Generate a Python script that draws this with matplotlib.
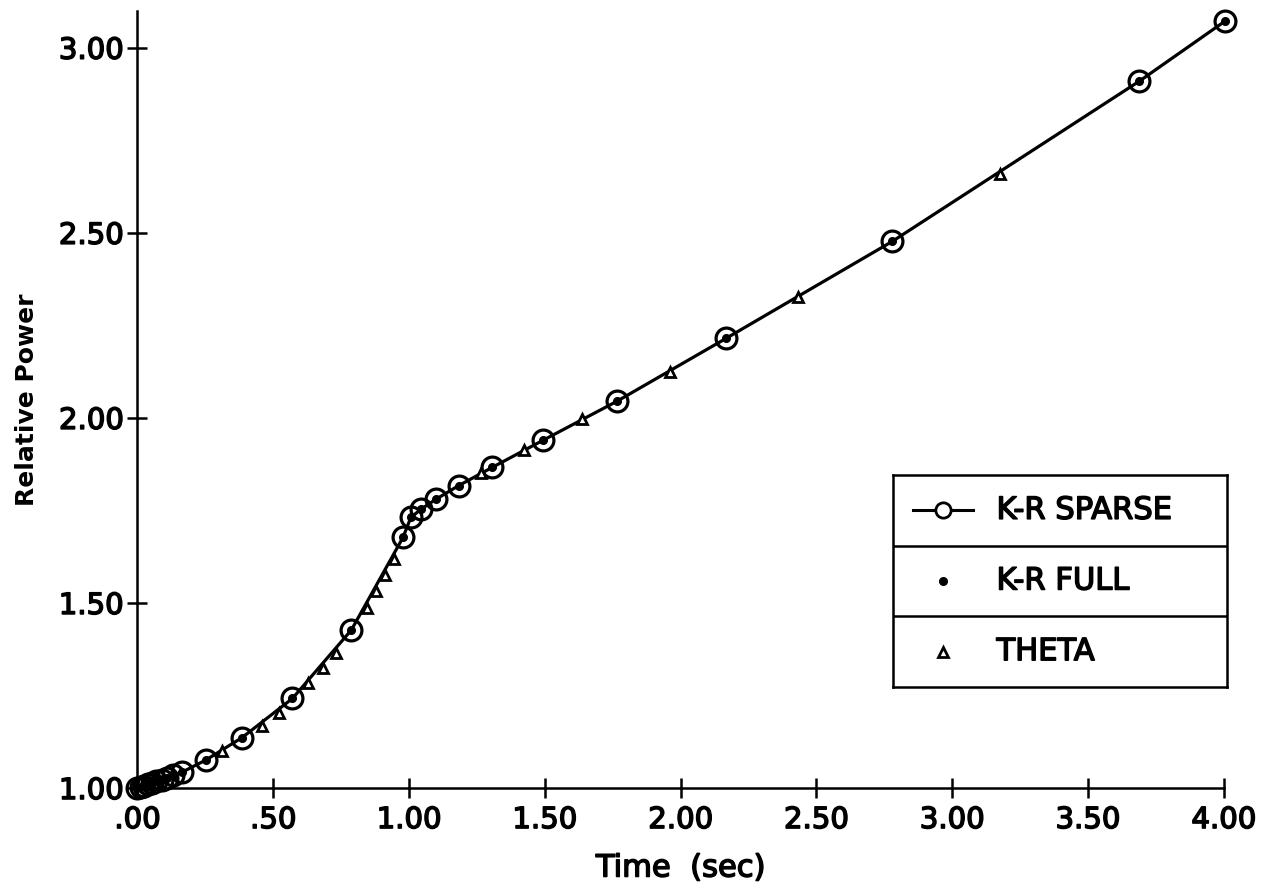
import matplotlib
matplotlib.use("Agg")
import matplotlib.pyplot as plt
from matplotlib.lines import Line2D
import matplotlib.patheffects as pe

# K-R SPARSE (circles, joined by line)
sparse_t = [0.0, 0.012, 0.025, 0.04, 0.055, 0.07, 0.09, 0.11, 0.13, 0.165, 0.253,
            0.385, 0.571, 0.788, 0.978, 1.007, 1.044, 1.099, 1.183, 1.306,
            1.495, 1.766, 2.168, 2.78, 3.69, 4.005]
sparse_p = [1.0, 1.003, 1.006, 1.01, 1.014, 1.018, 1.023, 1.028, 1.034, 1.043, 1.076,
            1.136, 1.242, 1.427, 1.677, 1.731, 1.753, 1.780, 1.817, 1.866,
            1.940, 2.045, 2.215, 2.477, 2.910, 3.072]

# K-R FULL (dots)
full_t = sparse_t
full_p = sparse_p

# THETA (triangles)
theta_t = [0.311, 0.458, 0.52, 0.630, 0.685, 0.733, 0.845, 0.88, 0.913, 0.945,
           1.264, 1.425, 1.637, 1.96, 2.432, 3.176]
theta_p = [1.100, 1.168, 1.204, 1.283, 1.323, 1.366, 1.487, 1.532, 1.575, 1.620,
           1.851, 1.913, 1.997, 2.125, 2.326, 2.660]

xticks = [0.0, 0.5, 1.0, 1.5, 2.0, 2.5, 3.0, 3.5, 4.0]
xticklabels = [".00", ".50", "1.00", "1.50", "2.00", "2.50", "3.00", "3.50", "4.00"]
yticks = [1.0, 1.5, 2.0, 2.5, 3.0]
yticklabels = ["1.00", "1.50", "2.00", "2.50", "3.00"]
legend_labels = ["K-R SPARSE", "K-R FULL", "THETA"]

plt.rcParams['font.family'] = ['DejaVu Sans']
heavy = [pe.withStroke(linewidth=1.1, foreground='black')]

fig = plt.figure(figsize=(12.72, 8.96), dpi=100)
ax = fig.add_axes([0.108, 0.1205, 0.854, 0.8675])

ax.plot(sparse_t, sparse_p, color='black', lw=2.3, marker='o', ms=15,
        mfc='none', mec='black', mew=2.3, zorder=3, clip_on=False)
ax.plot(full_t, full_p, ls='none', marker='o', ms=5.5, color='black', zorder=4,
        clip_on=False)
ax.plot(theta_t, theta_p, ls='none', marker='^', ms=7, mfc='white', mec='black',
        mew=2.0, zorder=5, clip_on=False)

ax.set_xlim(0, 4.0)
ax.set_ylim(1.0, 3.10)
ax.set_xticks(xticks)
ax.set_xticklabels(xticklabels)
ax.set_yticks(yticks)
ax.set_yticklabels(yticklabels)
for s in ['top', 'right']:
    ax.spines[s].set_visible(False)
for s in ['left', 'bottom']:
    ax.spines[s].set_linewidth(1.8)
ax.tick_params(direction='inout', length=14, width=1.8, labelsize=21)
ax.tick_params(axis='x', pad=6)
ax.tick_params(axis='y', pad=3)
for lab in ax.get_xticklabels() + ax.get_yticklabels():
    lab.set_path_effects(heavy)
xl = ax.set_xlabel("Time  (sec)", fontsize=22, labelpad=14)
xl.set_path_effects(heavy)
ax.set_ylabel("Relative Power", fontsize=18, fontweight='bold', labelpad=14)

# legend box
lax = fig.add_axes([893/1272, 1-687/896, (1227-893)/1272, (687-475)/896])
lax.set_xlim(0, 1)
lax.set_ylim(0, 3)
lax.set_xticks([])
lax.set_yticks([])
for s in lax.spines.values():
    s.set_linewidth(1.8)
for yv in [1, 2]:
    lax.axhline(yv, color='black', lw=1.8)
lax.add_line(Line2D([0.06, 0.24], [2.5, 2.5], color='black', lw=2.2))
lax.add_line(Line2D([0.15], [2.5], marker='o', ms=11, mfc='white', mec='black', mew=2.0))
lax.add_line(Line2D([0.15], [1.5], marker='o', ms=5.5, color='black'))
lax.add_line(Line2D([0.15], [0.5], marker='^', ms=7, mfc='white', mec='black', mew=2.0))
for i, lab in enumerate(legend_labels):
    t = lax.text(0.31, 2.5 - i, lab, fontsize=22, va='center', ha='left')
    t.set_path_effects(heavy)

fig.savefig("out.png", dpi=100)
